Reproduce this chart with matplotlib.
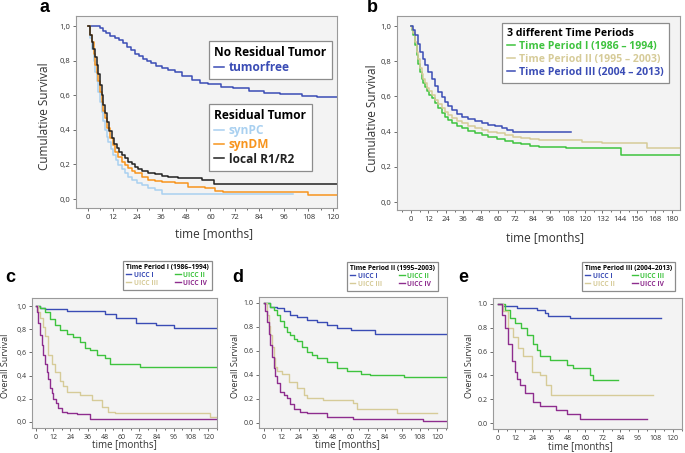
import numpy as np
import matplotlib
matplotlib.use("Agg")
import matplotlib.pyplot as plt
from matplotlib.ticker import MultipleLocator, FuncFormatter

plt.rcParams['font.family'] = ['Open Sans', 'DejaVu Sans']

# colours used by the survival curves
blue = '#3a4cb5'
light_blue = '#a9d0f0'
orange = '#f7941d'
black = '#222222'
green = '#3ec33e'
tan = '#d6cb98'
purple = '#8e2d8e'

# ---- panel a: residual tumor ----
a_tumorfree_t = [0, 6, 7.5, 9, 11, 13, 15, 17, 19, 21, 23, 25, 27, 29, 31, 33.5, 36, 39, 42.6, 46, 50.8, 55, 59, 65, 71, 79, 86, 94, 105, 112, 122]
a_tumorfree_s = [1.0, 0.99, 0.97, 0.96, 0.945, 0.93, 0.92, 0.90, 0.88, 0.86, 0.84, 0.825, 0.81, 0.795, 0.785, 0.77, 0.755, 0.745, 0.736, 0.71, 0.688, 0.67, 0.663, 0.65, 0.64, 0.624, 0.615, 0.605, 0.595, 0.591, 0.591]
a_synpc_t = [0, 1, 2.1, 2.8, 3.4, 4.2, 5, 5.8, 6.7, 7.5, 8.3, 9.2, 10, 11.2, 12.4, 13.6, 14.9, 16.5, 18.1, 19.8, 21.4, 23.8, 26.3, 29.5, 32.8, 36, 100.6]
a_synpc_s = [1.0, 0.93, 0.87, 0.80, 0.736, 0.68, 0.62, 0.56, 0.505, 0.45, 0.40, 0.36, 0.33, 0.29, 0.254, 0.225, 0.197, 0.172, 0.148, 0.128, 0.11, 0.095, 0.081, 0.066, 0.052, 0.027, 0.027]
a_syndm_t = [0, 1, 2.1, 2.8, 3.4, 4.2, 5, 5.8, 6.7, 7.5, 8.3, 9.5, 10.8, 12, 13.2, 14.8, 16.5, 18.2, 19.8, 21.4, 23, 26.3, 29.6, 33, 36, 42.6, 49.2, 57.4, 62, 66, 108, 122]
a_syndm_s = [1.0, 0.95, 0.91, 0.84, 0.775, 0.73, 0.68, 0.62, 0.562, 0.51, 0.466, 0.41, 0.352, 0.31, 0.274, 0.245, 0.216, 0.195, 0.177, 0.162, 0.148, 0.128, 0.11, 0.104, 0.10, 0.091, 0.071, 0.062, 0.045, 0.04, 0.025, 0.025]
a_local_t = [0, 1, 1.8, 2.6, 3.4, 4.2, 5, 5.9, 6.7, 7.5, 8.3, 9.1, 10.3, 11.6, 12.8, 14, 15.2, 16.5, 18, 19.8, 21.4, 23, 24.6, 26.3, 29.5, 32.8, 36, 39.4, 44, 49.2, 55.7, 61.5, 122]
a_local_s = [1.0, 0.95, 0.91, 0.87, 0.82, 0.775, 0.72, 0.66, 0.60, 0.545, 0.495, 0.447, 0.395, 0.35, 0.32, 0.293, 0.272, 0.254, 0.235, 0.216, 0.20, 0.187, 0.174, 0.162, 0.152, 0.143, 0.135, 0.129, 0.124, 0.12, 0.11, 0.085, 0.085]

# ---- panel b: three time periods ----
b_p1_t = [0, 0.8, 1.6, 2.8, 3.9, 5, 6.2, 7.4, 8.5, 9.7, 11, 12.6, 14.3, 16.6, 18.9, 21.1, 23.4, 25.7, 28, 31.5, 35, 39.5, 44, 48.6, 53.3, 59, 65, 70, 76, 82, 88, 107, 145, 188]
b_p1_s = [1.0, 0.98, 0.95, 0.89, 0.835, 0.785, 0.74, 0.70, 0.675, 0.655, 0.63, 0.61, 0.59, 0.56, 0.532, 0.507, 0.485, 0.466, 0.447, 0.432, 0.419, 0.405, 0.39, 0.38, 0.371, 0.359, 0.347, 0.337, 0.328, 0.321, 0.314, 0.305, 0.27, 0.27]
b_p2_t = [0, 0.8, 1.6, 2.8, 3.9, 5, 6.2, 7.4, 8.5, 9.7, 11, 12.6, 14.3, 16.6, 18.9, 21.1, 23.4, 25.7, 28, 31.5, 35, 39.5, 44, 48.6, 53.3, 59, 65, 70, 76, 82, 88, 118, 132, 163, 188]
b_p2_s = [1.0, 0.985, 0.96, 0.91, 0.854, 0.81, 0.76, 0.725, 0.70, 0.674, 0.65, 0.63, 0.608, 0.58, 0.555, 0.533, 0.513, 0.495, 0.479, 0.462, 0.447, 0.433, 0.419, 0.41, 0.40, 0.39, 0.38, 0.372, 0.362, 0.357, 0.352, 0.343, 0.333, 0.305, 0.305]
b_p3_t = [0, 1.5, 2.8, 4.5, 6.2, 8, 9.7, 12, 14.3, 16.6, 18.9, 21.1, 23.4, 25.7, 28, 31.5, 35, 39.5, 44, 48.6, 53.3, 58, 62.5, 66.5, 70.6, 110]
b_p3_s = [1.0, 0.98, 0.95, 0.90, 0.854, 0.81, 0.778, 0.74, 0.70, 0.66, 0.627, 0.598, 0.57, 0.545, 0.523, 0.503, 0.485, 0.472, 0.46, 0.448, 0.4375, 0.43, 0.422, 0.41, 0.396, 0.396]

# ---- panel c: Time Period I by UICC stage ----
c_uicc1_t = [0, 2.8, 6.3, 21.4, 48, 56, 70, 84, 96, 126]
c_uicc1_s = [1.0, 0.98, 0.974, 0.96, 0.928, 0.894, 0.85, 0.836, 0.813, 0.813]
c_uicc2_t = [0, 2.8, 6.3, 9.8, 13.3, 16.7, 21.4, 26, 30.7, 34.2, 37.7, 42.3, 48, 51.6, 72.6, 126]
c_uicc2_s = [1.0, 0.98, 0.95, 0.89, 0.836, 0.79, 0.755, 0.735, 0.69, 0.635, 0.62, 0.578, 0.55, 0.497, 0.477, 0.477]
c_uicc3_t = [0, 1.6, 2.8, 4.7, 6.3, 8.6, 10.9, 13.3, 16.7, 19, 21.4, 31, 39, 46, 50.5, 55, 121.4, 126]
c_uicc3_s = [1.0, 0.95, 0.90, 0.82, 0.74, 0.58, 0.50, 0.43, 0.35, 0.31, 0.26, 0.233, 0.19, 0.13, 0.09, 0.075, 0.04, 0.04]
c_uicc4_t = [0, 0.5, 1.6, 2.8, 4, 5.1, 6.3, 7.4, 8.6, 9.8, 10.9, 12.1, 14, 15.6, 17.9, 21.4, 28.4, 37.7, 126]
c_uicc4_s = [1.0, 0.95, 0.85, 0.75, 0.66, 0.58, 0.50, 0.43, 0.37, 0.29, 0.25, 0.20, 0.16, 0.12, 0.09, 0.075, 0.065, 0.025, 0.025]

# ---- panel d: Time Period II by UICC stage ----
d_uicc1_t = [0, 4.4, 9, 13.6, 18, 23, 30, 37, 44, 50.6, 60, 77, 127]
d_uicc1_s = [1.0, 0.97, 0.955, 0.93, 0.90, 0.88, 0.86, 0.845, 0.82, 0.79, 0.775, 0.74, 0.74]
d_uicc2_t = [0, 4.4, 6.7, 9, 11.3, 13.6, 16, 18, 20.5, 23, 26.5, 30, 33.5, 37, 44, 50.6, 57.6, 67, 73.8, 97, 127]
d_uicc2_s = [1.0, 0.97, 0.94, 0.90, 0.85, 0.80, 0.76, 0.73, 0.70, 0.68, 0.635, 0.595, 0.565, 0.54, 0.51, 0.455, 0.43, 0.41, 0.40, 0.385, 0.385]
d_uicc3_t = [0, 2, 3.2, 4.4, 5.5, 6.7, 7.8, 9, 12.5, 17, 23, 27.5, 30, 41, 62, 64.5, 92, 120]
d_uicc3_s = [1.0, 0.90, 0.81, 0.73, 0.63, 0.54, 0.47, 0.43, 0.405, 0.345, 0.29, 0.235, 0.21, 0.19, 0.165, 0.12, 0.085, 0.085]
d_uicc4_t = [0, 1, 2, 3.2, 4.4, 5.5, 6.7, 7.8, 9, 11.3, 13.5, 16, 18.3, 20.6, 25, 30, 44, 62, 110, 127]
d_uicc4_s = [1.0, 0.93, 0.84, 0.74, 0.65, 0.55, 0.455, 0.39, 0.33, 0.26, 0.235, 0.205, 0.16, 0.12, 0.095, 0.08, 0.053, 0.033, 0.02, 0.02]

# ---- panel e: Time Period III by UICC stage ----
e_uicc1_t = [0, 3.7, 12.8, 26.5, 32, 34.5, 49.4, 112]
e_uicc1_s = [1.0, 0.98, 0.97, 0.95, 0.92, 0.90, 0.88, 0.88]
e_uicc3_t = [0, 4.8, 8, 11.7, 16, 19.7, 24, 26.5, 28.8, 35.7, 47, 51.7, 63, 65.4, 82.5]
e_uicc3_s = [1.0, 0.95, 0.88, 0.84, 0.80, 0.74, 0.66, 0.61, 0.56, 0.53, 0.49, 0.46, 0.40, 0.36, 0.36]
e_uicc2_t = [0, 3.7, 7, 10.5, 14, 17.4, 23, 29, 33, 36.4, 106.5]
e_uicc2_s = [1.0, 0.94, 0.80, 0.725, 0.63, 0.56, 0.43, 0.40, 0.32, 0.235, 0.235]
e_uicc4_t = [0, 2.5, 4.8, 7, 9.4, 11.7, 13.3, 15, 18.5, 24, 28.8, 40, 47, 56, 102]
e_uicc4_s = [1.0, 0.91, 0.80, 0.66, 0.52, 0.43, 0.37, 0.32, 0.25, 0.18, 0.14, 0.11, 0.08, 0.035, 0.035]

W, H = 685, 453
fig = plt.figure(figsize=(W / 100, H / 100), dpi=100)


def box(x0, y0, x1, y1):
    # pixel box -> figure fraction rect
    return [x0 / W, 1 - y1 / H, (x1 - x0) / W, (y1 - y0) / H]


def ftext(x, y, s, **kw):
    fig.text(x / W, 1 - y / H, s, ha='center', va='center', **kw)


def style_axes(ax, xlim, ylim, xmax_tick, comma=True, size=5.5):
    ax.set_facecolor('#f3f3f3')
    for sp in ax.spines.values():
        sp.set_color('#9a9a9a')
        sp.set_linewidth(0.8)
    ax.set_xlim(*xlim)
    ax.set_ylim(*ylim)
    ax.set_xticks(np.arange(0, xmax_tick + 1, 12))
    ax.xaxis.set_minor_locator(MultipleLocator(6))
    ax.set_yticks(np.arange(0, 1.01, 0.2))
    if comma:
        ax.yaxis.set_major_formatter(FuncFormatter(lambda v, p: f"{v:.1f}".replace('.', ',')))
    else:
        ax.yaxis.set_major_formatter(FuncFormatter(lambda v, p: f"{v:.1f}"))
    ax.tick_params(which='both', direction='out', color='#555555', width=0.6,
                   labelsize=size, pad=1.5, labelcolor='#333333')
    ax.tick_params(which='major', length=2.5)
    ax.tick_params(which='minor', length=1.5)


def legend(ax, handles, title, x, y, size, ncol=1, colsp=2.0, lsp=0.12):
    lg = ax.legend(handles=handles, title=title, loc='upper left',
                   bbox_to_anchor=(x / W, 1 - y / H), bbox_transform=fig.transFigure,
                   borderaxespad=0, ncol=ncol, columnspacing=colsp,
                   handlelength=0.8, handletextpad=0.4, borderpad=0.45,
                   labelspacing=lsp, alignment='left', labelcolor='linecolor',
                   prop={'weight': 'bold', 'size': size},
                   title_fontproperties={'weight': 'bold', 'size': size},
                   fancybox=False, framealpha=1, edgecolor='#8c8c8c', facecolor='white')
    lg.get_frame().set_linewidth(0.9)
    return lg


# panel a
ax_a = fig.add_axes(box(76, 16, 337, 208))
l_tf, = ax_a.step(a_tumorfree_t, a_tumorfree_s, where='post', color=blue, lw=1.1, label='tumorfree')
l_pc, = ax_a.step(a_synpc_t, a_synpc_s, where='post', color=light_blue, lw=1.1, label='synPC')
l_dm, = ax_a.step(a_syndm_t, a_syndm_s, where='post', color=orange, lw=1.1, label='synDM')
l_lo, = ax_a.step(a_local_t, a_local_s, where='post', color=black, lw=1.1, label='local R1/R2')
style_axes(ax_a, (-5.9, 122), (-0.052, 1.058), 120)
lg1 = legend(ax_a, [l_tf], 'No Residual Tumor', 209, 41, 8.6)
ax_a.add_artist(lg1)
legend(ax_a, [l_pc, l_dm, l_lo], 'Residual Tumor', 209, 104, 8.6)

# panel b
ax_b = fig.add_axes(box(397, 16, 680, 210))
l1, = ax_b.step(b_p1_t, b_p1_s, where='post', color=green, lw=1.1, label='Time Period I (1986 \u2013 1994)')
l2, = ax_b.step(b_p2_t, b_p2_s, where='post', color=tan, lw=1.1, label='Time Period II (1995 \u2013 2003)')
l3, = ax_b.step(b_p3_t, b_p3_s, where='post', color=blue, lw=1.1, label='Time Period III (2004 \u2013 2013)')
style_axes(ax_b, (-9.7, 185.5), (-0.045, 1.057), 180)
legend(ax_b, [l1, l2, l3], '3 different Time Periods', 502, 23, 7.6, lsp=0.2)

# panels c, d, e
ax_c = fig.add_axes(box(32, 298, 217, 428))
h1, = ax_c.step(c_uicc1_t, c_uicc1_s, where='post', color=blue, lw=1.0, label='UICC I')
h2, = ax_c.step(c_uicc2_t, c_uicc2_s, where='post', color=green, lw=1.0, label='UICC II')
h3, = ax_c.step(c_uicc3_t, c_uicc3_s, where='post', color=tan, lw=1.0, label='UICC III')
h4, = ax_c.step(c_uicc4_t, c_uicc4_s, where='post', color=purple, lw=1.0, label='UICC IV')
style_axes(ax_c, (-2.8, 126.3), (-0.052, 1.069), 120, size=5)
legend(ax_c, [h1, h3, h2, h4], 'Time Period I (1986\u20131994)', 123, 261, 4.8, ncol=2, colsp=2.6)

ax_d = fig.add_axes(box(259, 297, 447, 428))
h1, = ax_d.step(d_uicc1_t, d_uicc1_s, where='post', color=blue, lw=1.0, label='UICC I')
h2, = ax_d.step(d_uicc2_t, d_uicc2_s, where='post', color=green, lw=1.0, label='UICC II')
h3, = ax_d.step(d_uicc3_t, d_uicc3_s, where='post', color=tan, lw=1.0, label='UICC III')
h4, = ax_d.step(d_uicc4_t, d_uicc4_s, where='post', color=purple, lw=1.0, label='UICC IV')
style_axes(ax_d, (-3.5, 126.9), (-0.042, 1.05), 120, comma=False, size=5)
legend(ax_d, [h1, h3, h2, h4], 'Time Period II (1995\u20132003)', 347, 262, 4.8, ncol=2, colsp=2.6)

ax_e = fig.add_axes(box(493, 298, 682, 429))
h1, = ax_e.step(e_uicc1_t, e_uicc1_s, where='post', color=blue, lw=1.0, label='UICC I')
h3, = ax_e.step(e_uicc3_t, e_uicc3_s, where='post', color=green, lw=1.0, label='UICC III')
h2, = ax_e.step(e_uicc2_t, e_uicc2_s, where='post', color=tan, lw=1.0, label='UICC II')
h4, = ax_e.step(e_uicc4_t, e_uicc4_s, where='post', color=purple, lw=1.0, label='UICC IV')
style_axes(ax_e, (-3.4, 126.2), (-0.05, 1.05), 120, comma=False, size=5)
legend(ax_e, [h1, h2, h3, h4], 'Time Period III (2004\u20132013)', 582, 262, 4.8, ncol=2, colsp=2.6)

# axis labels and panel letters
ftext(45, 116, 'Cumulative Survival', rotation=90, fontsize=8.5, color='#333333')
ftext(214, 234, 'time [months]', fontsize=8.5, color='#333333')
ftext(372, 118, 'Cumulative Survival', rotation=90, fontsize=8.5, color='#333333')
ftext(545, 238, 'time [months]', fontsize=8.5, color='#333333')
for x_y in [6, 236, 469]:
    ftext(x_y, 366, 'Overall Survival', rotation=90, fontsize=6.5, color='#333333')
ftext(124, 445, 'time [months]', fontsize=7, color='#333333')
ftext(347, 445, 'time [months]', fontsize=7, color='#333333')
ftext(580, 447, 'time [months]', fontsize=7, color='#333333')

for letter, x, y in [('a', 45, 8), ('b', 372, 8), ('c', 10, 278), ('d', 238, 278), ('e', 463, 278)]:
    ftext(x, y, letter, fontsize=13, fontweight='bold', family='Liberation Sans')

fig.savefig('out.png', dpi=100)
